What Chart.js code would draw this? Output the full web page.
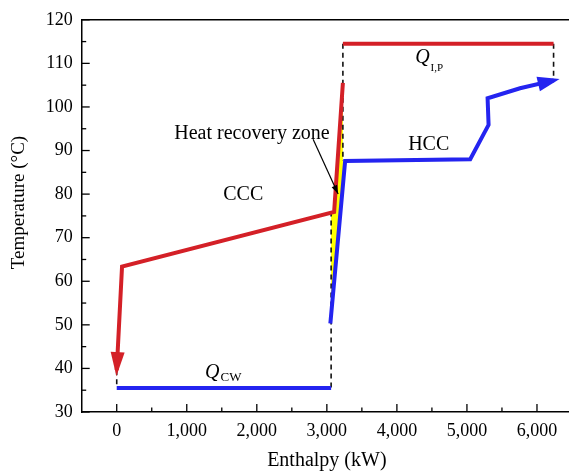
<!DOCTYPE html>
<html>
<head>
<meta charset="utf-8">
<script src="https://cdn.jsdelivr.net/npm/chart.js@4/dist/chart.umd.min.js"></script>
<style>
html,body{margin:0;padding:0;background:#fff;overflow:hidden;width:569px;height:474px;}
canvas{display:block;}
</style>
</head>
<body>
<canvas id="c" width="574" height="474" style="width:574px;height:474px"></canvas>
<script>
// ---- data ----
const xTickValues = [0, 1000, 2000, 3000, 4000, 5000, 6000];
const yTickValues = [30, 40, 50, 60, 70, 80, 90, 100, 110, 120];

// Cold composite curve (CCC), drawn from top to bottom with the arrow at the end
const cccEnthalpy = [3229, 3104, 76, 0];
const cccTemp     = [105.5, 75.9, 63.4, 39.6];

// Hot composite curve (HCC), arrow at the end
const hccEnthalpy = [3050, 3261, 5047, 5309, 5295, 5758, 6240];
const hccTemp     = [50.3, 87.6, 88.0, 95.9, 102.0, 104.3, 106.1];

// Utility lines
const qlpEnthalpy = [3229, 6237];
const qlpTemp     = [114.5, 114.5];
const qcwEnthalpy = [0, 3061];
const qcwTemp     = [35.5, 35.5];

// Dashed guide lines
const dash1Enthalpy = [3229, 3229]; const dash1Temp = [114.5, 87.6];
const dash2Enthalpy = [6237, 6237]; const dash2Temp = [114.5, 106.6];
const dash3Enthalpy = [3061, 3061]; const dash3Temp = [76.0, 35.5];
const dash4Enthalpy = [0, 0];       const dash4Temp = [39.6, 35.5];

// Heat recovery zone (yellow)
const zoneEnthalpy = [3061, 3104, 3229, 3229, 3061];
const zoneTemp     = [76.0, 75.9, 105.5, 82.0, 52.7];

const pts = (xs, ys) => xs.map((x, i) => ({x: x, y: ys[i]}));

const RED = '#d42027';
const BLUE = '#2424f0';
const FONT = '"Liberation Serif", "Times New Roman", serif';

const lineDs = (data, color, width, dash) => ({
  data: data, showLine: true, borderColor: color, borderWidth: width,
  borderDash: dash || [], pointRadius: 0, fill: false, tension: 0,
  borderCapStyle: 'butt', borderJoinStyle: 'miter'
});

const datasets = [
  lineDs(pts(cccEnthalpy, cccTemp), RED, 4),          // 0
  lineDs(pts(hccEnthalpy, hccTemp), BLUE, 4),         // 1
  lineDs(pts(qlpEnthalpy, qlpTemp), RED, 4),          // 2
  lineDs(pts(qcwEnthalpy, qcwTemp), BLUE, 4),         // 3
  lineDs(pts(dash1Enthalpy, dash1Temp), '#111', 1.6, [5, 4]),
  lineDs(pts(dash2Enthalpy, dash2Temp), '#111', 1.6, [5, 4]),
  lineDs(pts(dash3Enthalpy, dash3Temp), '#111', 1.6, [5, 4]),
  lineDs(pts(dash4Enthalpy, dash4Temp), '#111', 1.6, [5, 4]),
  Object.assign(lineDs(pts(zoneEnthalpy, zoneTemp), 'rgba(0,0,0,0)', 0), {fill: 'shape', backgroundColor: '#ffff00'})
];

function arrowHead(ctx, x0, y0, x1, y1, len, half, color, ext) {
  const a = Math.atan2(y1 - y0, x1 - x0);
  const tx = x1 + Math.cos(a) * ext, ty = y1 + Math.sin(a) * ext;
  const bx = tx - Math.cos(a) * len, by = ty - Math.sin(a) * len;
  ctx.save();
  ctx.fillStyle = color;
  ctx.beginPath();
  ctx.moveTo(tx, ty);
  ctx.lineTo(bx + Math.sin(a) * half, by - Math.cos(a) * half);
  ctx.lineTo(bx - Math.sin(a) * half, by + Math.cos(a) * half);
  ctx.closePath();
  ctx.fill();
  ctx.restore();
}

const decor = {
  id: 'decor',
  beforeDatasetsDraw(chart) {
    const {ctx, chartArea: a, scales: {x, y}} = chart;
    ctx.save();
    ctx.strokeStyle = '#000';
    ctx.lineWidth = 1.5;
    // top frame line
    ctx.beginPath(); ctx.moveTo(a.left, a.top); ctx.lineTo(a.right + 5, a.top); ctx.stroke();
    // inward tick marks
    ctx.lineWidth = 1.3;
    xTickValues.forEach(v => {
      const p = x.getPixelForValue(v);
      ctx.beginPath(); ctx.moveTo(p, a.bottom); ctx.lineTo(p, a.bottom - 8); ctx.stroke();
      const m = x.getPixelForValue(v + 500);
      if (v + 500 < x.max) { ctx.beginPath(); ctx.moveTo(m, a.bottom); ctx.lineTo(m, a.bottom - 4.5); ctx.stroke(); }
    });
    yTickValues.forEach(v => {
      const p = y.getPixelForValue(v);
      ctx.beginPath(); ctx.moveTo(a.left, p); ctx.lineTo(a.left + 8, p); ctx.stroke();
      if (v + 5 < y.max) {
        const m = y.getPixelForValue(v + 5);
        ctx.beginPath(); ctx.moveTo(a.left, m); ctx.lineTo(a.left + 4.5, m); ctx.stroke();
      }
    });
    ctx.restore();
  },
  afterDatasetsDraw(chart) {
    const {ctx, scales: {x, y}} = chart;
    // arrowheads on the composite curves
    const m0 = chart.getDatasetMeta(0).data, m1 = chart.getDatasetMeta(1).data;
    let p = m0.length;
    arrowHead(ctx, m0[p - 2].x, m0[p - 2].y, m0[p - 1].x, m0[p - 1].y, 24, 7, RED, 6);
    p = m1.length;
    arrowHead(ctx, m1[p - 2].x, m1[p - 2].y, m1[p - 1].x, m1[p - 1].y, 22, 7.5, BLUE, 6);

    // annotation pointer
    const ax0 = x.getPixelForValue(2804), ay0 = y.getPixelForValue(92.6);
    const ax1 = x.getPixelForValue(3161), ay1 = y.getPixelForValue(80.0);
    ctx.save();
    ctx.strokeStyle = '#000'; ctx.lineWidth = 1.2;
    ctx.beginPath(); ctx.moveTo(ax0, ay0); ctx.lineTo(ax1, ay1); ctx.stroke();
    ctx.restore();
    arrowHead(ctx, ax0, ay0, ax1, ay1, 9, 3, '#000', 0);

    // texts
    ctx.save();
    ctx.fillStyle = '#000';
    ctx.textBaseline = 'alphabetic';
    ctx.textAlign = 'left';
    ctx.font = '20px ' + FONT;
    ctx.fillText('Heat recovery zone', x.getPixelForValue(821), y.getPixelForValue(92.7));
    ctx.fillText('CCC', x.getPixelForValue(1521), y.getPixelForValue(78.6));
    ctx.fillText('HCC', x.getPixelForValue(4161), y.getPixelForValue(90.2));
    // Q_I,P
    ctx.font = 'italic 20px ' + FONT;
    let qx = x.getPixelForValue(4261), qy = y.getPixelForValue(110.2);
    ctx.fillText('Q', qx, qy);
    let w = ctx.measureText('Q').width;
    ctx.font = '11px ' + FONT;
    ctx.fillText('I,P', qx + w + 1, qy + 8);
    // Q_CW
    ctx.font = 'italic 20px ' + FONT;
    qx = x.getPixelForValue(1261); qy = y.getPixelForValue(37.7);
    ctx.fillText('Q', qx, qy);
    w = ctx.measureText('Q').width;
    ctx.font = '13px ' + FONT;
    ctx.fillText('CW', qx + w + 1, qy + 3);
    // y axis title
    ctx.font = '19px ' + FONT;
    ctx.translate(19, 202.5);
    ctx.rotate(-Math.PI / 2);
    ctx.textAlign = 'center';
    ctx.textBaseline = 'middle';
    ctx.fillText('Temperature (\u00B0C)', 0, 0);
    ctx.restore();
  }
};

new Chart(document.getElementById('c'), {
  type: 'scatter',
  data: {datasets: datasets},
  options: {
    animation: false, responsive: false, maintainAspectRatio: false,
    events: [],
    layout: {padding: {left: 0, right: 2, top: 18, bottom: 0}},
    plugins: {legend: {display: false}, tooltip: {enabled: false}},
    scales: {
      x: {
        type: 'linear', min: -500, max: 6500,
        afterBuildTicks: s => { s.ticks = xTickValues.map(v => ({value: v})); },
        afterFit: s => { s.height = 62; },
        grid: {display: false, drawTicks: false},
        border: {display: true, color: '#000', width: 1.5},
        ticks: {padding: 8, color: '#000', font: {family: FONT, size: 18}, maxRotation: 0, autoSkip: false,
                callback: v => v.toLocaleString('en-US')},
        title: {display: true, text: 'Enthalpy (kW)', color: '#000', font: {family: FONT, size: 20}, padding: {top: 0, bottom: 1}}
      },
      y: {
        type: 'linear', min: 30, max: 120,
        afterBuildTicks: s => { s.ticks = yTickValues.map(v => ({value: v})); },
        afterFit: s => { s.width = 81.7; },
        grid: {display: false, drawTicks: false},
        border: {display: true, color: '#000', width: 1.5},
        ticks: {padding: 9, color: '#000', font: {family: FONT, size: 18}, autoSkip: false}
      }
    }
  },
  plugins: [decor]
});
</script>
</body>
</html>
